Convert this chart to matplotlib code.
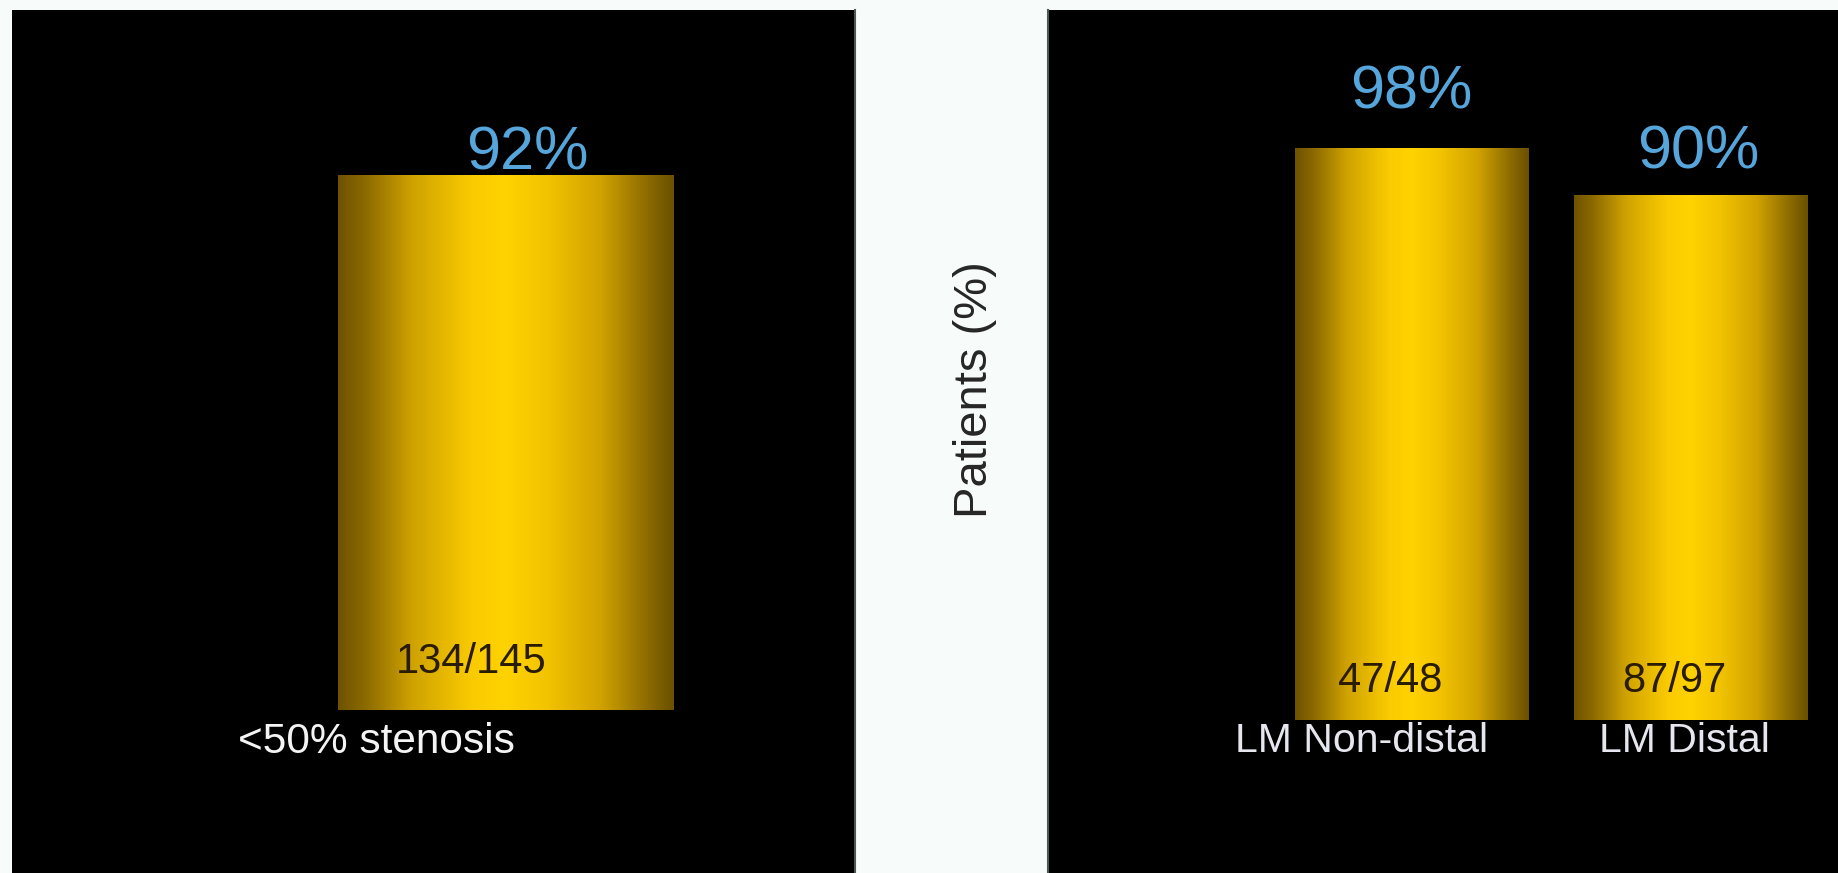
import numpy as np
import matplotlib
matplotlib.use("Agg")
import matplotlib.pyplot as plt
from matplotlib.colors import LinearSegmentedColormap

plt.rcParams['font.family'] = ['Liberation Sans', 'DejaVu Sans']

# ---- data -------------------------------------------------------------
left_categories = ["<50% stenosis"]
left_values = [92]
left_counts = ["134/145"]

right_categories = ["LM Non-distal", "LM Distal"]
right_values = [98, 90]
right_counts = ["47/48", "87/97"]

y_label = "Patients (%)"

# ---- styling / layout -------------------------------------------------
W, H = 1838, 873
fig = plt.figure(figsize=(W / 100, H / 100), dpi=100, facecolor="#F7FBFA")

PCT_COLOR = "#56A6DC"
COUNT_COLOR = "#2A1C00"
GOLD = LinearSegmentedColormap.from_list(
    "gold",
    [(0.00, "#6E5200"), (0.08, "#8C6A00"), (0.22, "#CFA200"),
     (0.40, "#FACB00"), (0.50, "#FFD200"), (0.62, "#F2C400"),
     (0.78, "#D2A300"), (0.92, "#8E6C00"), (1.00, "#6A5000")])


def px_axes(x0, x1, y0, y1):
    """Create an axes from pixel bounds (top-left origin)."""
    return fig.add_axes([x0 / W, 1 - y1 / H, (x1 - x0) / W, (y1 - y0) / H])


def gold_bars(ax, xs, vals, width):
    bars = ax.bar(xs, vals, width=width, color="#E0B000", edgecolor="none", zorder=2)
    grad = np.linspace(0, 1, 256)[None, :]
    for b in bars:
        x, w, h = b.get_x(), b.get_width(), b.get_height()
        im = ax.imshow(grad, cmap=GOLD, aspect="auto", extent=[x, x + w, 0, h],
                       interpolation="bicubic", zorder=3)
        im.set_clip_path(b)
    return bars


def style_panel(ax, xlim, ylim, edge_spine):
    ax.set_facecolor("black")
    ax.set_xlim(*xlim)
    ax.set_ylim(*ylim)
    ax.set_xticks([])
    ax.set_yticks([])
    for name, sp in ax.spines.items():
        sp.set_visible(name == edge_spine)
        sp.set_color("#4C5856")
        sp.set_linewidth(1.5)


# left panel
axL = px_axes(12, 855, 10, 873)
gold_bars(axL, np.arange(len(left_values)), left_values, 1.0)
style_panel(axL, (-1.473, 1.043), (-28.0, 120.4), "right")

pct_dx_L = [0.064]
pct_dy_L = [0.9]
cnt_dx_L = [-0.103]
cat_dx_L = [-0.384]
for i, v in enumerate(left_values):
    axL.text(i + pct_dx_L[i], v + pct_dy_L[i], f"{v}%", color=PCT_COLOR,
             fontsize=44, ha="center", va="baseline", zorder=5)
    axL.text(i + cnt_dx_L[i], 6.4, left_counts[i], color=COUNT_COLOR,
             fontsize=30, ha="center", va="baseline", zorder=5)
    axL.text(i + cat_dx_L[i], -7.4, left_categories[i], color="#F4F4F4",
             fontsize=30.5, ha="center", va="baseline", zorder=5)

# right panel
axR = px_axes(1048, 1838, 10, 873)
gold_bars(axR, np.arange(len(right_values)), right_values, 0.835)
style_panel(axR, (-1.301, 1.530), (-26.2, 121.7), "left")

pct_dx_R = [0.0, 0.03]
pct_dy_R = [6.9, 4.6]
cnt_dx_R = [-0.075, -0.057]
cat_dx_R = [-0.176, -0.022]
for i, v in enumerate(right_values):
    axR.text(i + pct_dx_R[i], v + pct_dy_R[i], f"{v}%", color=PCT_COLOR,
             fontsize=44, ha="center", va="baseline", zorder=5)
    axR.text(i + cnt_dx_R[i], 4.8, right_counts[i], color=COUNT_COLOR,
             fontsize=30, ha="center", va="baseline", zorder=5)
    axR.text(i + cat_dx_R[i], -5.5, right_categories[i], color="#E6E6EE",
             fontsize=29.5, ha="center", va="baseline", zorder=5)

# shared axis title in the gap between the panels
fig.text(975 / W, 1 - 390 / H, y_label, rotation=90, ha="center", va="center",
         fontsize=34, color="#262626")

fig.savefig("out.png", dpi=100, facecolor=fig.get_facecolor())
